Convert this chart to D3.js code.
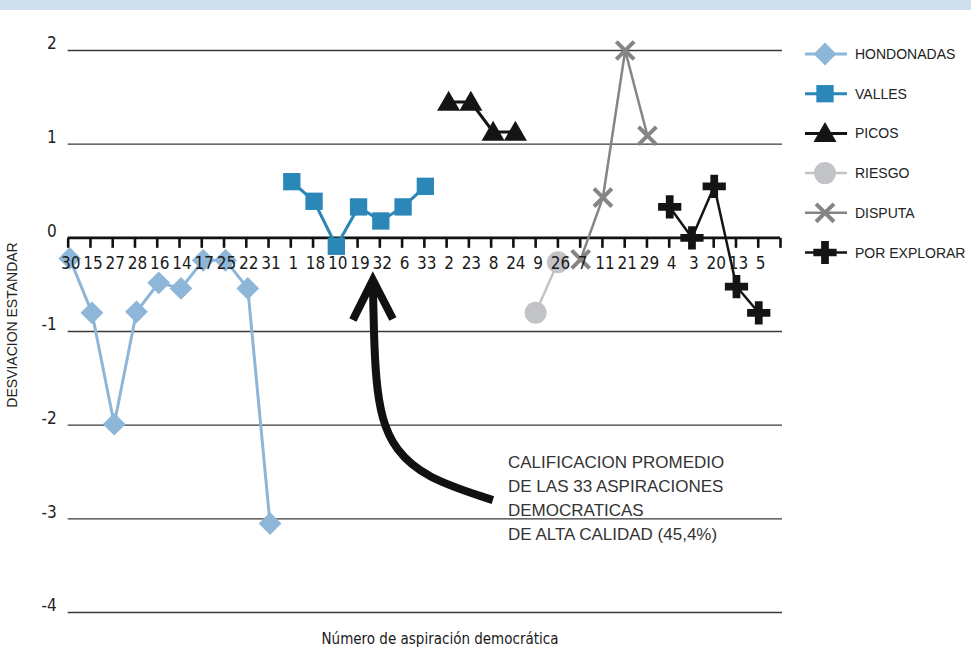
<!DOCTYPE html>
<html>
<head>
<meta charset="utf-8">
<script src="https://cdn.jsdelivr.net/npm/d3@7"></script>
<style>
  html, body { margin: 0; padding: 0; background: #fff; }
  svg { display: block; }
</style>
</head>
<body>
<svg id="chart" width="971" height="649"></svg>
<script>
// ---------- DATA ----------
const categories = ["30","15","27","28","16","14","17","25","22","31","1","18","10","19","32","6","33","2","23","8","24","9","26","7","11","21","29","4","3","20","13","5"];
const yTicks = [2, 1, 0, -1, -2, -3, -4];

const hondonadasCats = ["30","15","27","28","16","14","17","25","22","31"];
const hondonadasVals = [-0.22, -0.80, -1.99, -0.79, -0.48, -0.54, -0.24, -0.24, -0.54, -3.05];

const vallesCats = ["1","18","10","19","32","6","33"];
const vallesVals = [0.60, 0.39, -0.09, 0.33, 0.18, 0.33, 0.55];

const picosCats = ["2","23","8","24"];
const picosVals = [1.45, 1.45, 1.13, 1.13];

const riesgoCats = ["9","26"];
const riesgoVals = [-0.80, -0.26];

const disputaCats = ["7","11","21","29"];
const disputaVals = [-0.23, 0.43, 2.00, 1.09];

const explorarCats = ["4","3","20","13","5"];
const explorarVals = [0.33, 0.00, 0.55, -0.52, -0.80];

const legendLabels = ["HONDONADAS","VALLES","PICOS","RIESGO","DISPUTA","POR EXPLORAR"];

const annotationLines = ["CALIFICACION PROMEDIO","DE LAS 33 ASPIRACIONES","DEMOCRATICAS","DE ALTA CALIDAD (45,4%)"];
const xTitle = "Número de aspiración democrática";
const yTitle = "DESVIACION ESTANDAR";

// ---------- SETUP ----------
const svg = d3.select("#chart");
const W = 971, H = 649;
const condensed = "'Liberation Sans Narrow', 'DejaVu Sans Condensed', 'Liberation Sans', sans-serif";
const plain = "'Liberation Sans', Arial, sans-serif";

// top band
svg.append("rect").attr("x", 0).attr("y", 0).attr("width", W).attr("height", 10).attr("fill", "#cfdeed");

const nSlots = categories.length; // 32 labelled + 1 trailing tick
const x = d3.scaleLinear().domain([0, nSlots]).range([67.7, 780]);
const y = d3.scaleLinear().domain([-4, 2]).range([612.5, 50.5]);
const idx = c => categories.indexOf(c);

// y tick labels
const yAxis = d3.axisLeft(y).tickValues(yTicks).tickSize(0).tickPadding(12).tickFormat(d3.format("d"));
const gY = svg.append("g").attr("transform", `translate(${x.range()[0]},0)`).call(yAxis);
gY.select(".domain").remove();
gY.selectAll("text").attr("font-family", condensed).attr("font-size", 17).attr("fill", "#222")
  .attr("dy", "-0.1em").attr("x", -11)
  .text(d => d < 0 ? "-" + Math.abs(d) : d);

// gridlines
svg.append("g").selectAll("line").data(yTicks.filter(d => d !== 0)).join("line")
  .attr("x1", x.range()[0]).attr("x2", 782)
  .attr("y1", d => y(d)).attr("y2", d => y(d))
  .attr("stroke", "#3a3a3a").attr("stroke-width", 1.4);

// zero axis with ticks (labels drawn later, on top of markers)
const tickIdx = d3.range(nSlots + 1);
const xAxis = d3.axisBottom(x).tickValues(tickIdx).tickSize(10).tickSizeOuter(0)
  .tickFormat(i => categories[i] || "");
const gX = svg.append("g").attr("transform", `translate(0,${y(0)})`).call(xAxis);
gX.select(".domain").attr("stroke", "#111").attr("stroke-width", 2.6)
  .attr("d", `M${x.range()[0]},0H${x.range()[1]}`);
gX.selectAll(".tick line").attr("stroke", "#111").attr("stroke-width", 2.6);
const labelData = [];
gX.selectAll(".tick text").each(function (i) { labelData.push(i); }).remove();

// ---------- SERIES ----------
const lineGen = d3.line().x(d => d.x).y(d => d.y);
function series(cats, vals, dx) {
  return cats.map((c, i) => ({ x: x(idx(c)) + dx, y: y(vals[i]) }));
}

const sym = {
  diamond: d3.symbol().type(d3.symbolDiamond2).size(330),
  square: d3.symbol().type(d3.symbolSquare).size(300),
  triangle: d3.symbol().type(d3.symbolTriangle).size(230),
  circle: d3.symbol().type(d3.symbolCircle).size(380),
  cross: d3.symbol().type(d3.symbolCross).size(300),
  times: d3.symbol().type(d3.symbolTimes).size(210)
};

const defs = [
  { cats: hondonadasCats, vals: hondonadasVals, color: "#8db6d8", lw: 3, sym: "diamond", dx: 2 },
  { cats: vallesCats, vals: vallesVals, color: "#2a87b8", lw: 3, sym: "square", dx: 1.5 },
  { cats: picosCats, vals: picosVals, color: "#141414", lw: 3, sym: "triangle", dx: 2.5 },
  { cats: riesgoCats, vals: riesgoVals, color: "#c2c3c6", lw: 2.5, sym: "circle", dx: 0.5 },
  { cats: disputaCats, vals: disputaVals, color: "#858585", lw: 2.5, sym: "times", dx: 1 },
  { cats: explorarCats, vals: explorarVals, color: "#141414", lw: 2.5, sym: "cross", dx: 1 }
];

defs.forEach(s => {
  const pts = series(s.cats, s.vals, s.dx);
  svg.append("path").datum(pts).attr("d", lineGen)
    .attr("fill", "none").attr("stroke", s.color).attr("stroke-width", s.lw);
  const g = svg.append("g");
  g.selectAll("path").data(pts).join("path")
    .attr("transform", d => `translate(${d.x},${d.y + (s.sym === "triangle" ? 2 : 0)})`)
    .attr("d", sym[s.sym])
    .attr("fill", s.sym === "times" ? "none" : s.color)
    .attr("stroke", s.sym === "times" ? s.color : "none")
    .attr("stroke-width", s.sym === "times" ? 4 : 0);
});

// category labels on top
svg.append("g").selectAll("text").data(labelData).join("text")
  .attr("x", i => x(i) + 3).attr("y", y(0) + 31)
  .attr("text-anchor", "middle")
  .attr("font-family", condensed).attr("font-size", 17)
  .attr("fill", "#1a1a1a")
  .text(i => categories[i] || "");

// ---------- LEGEND ----------
const legY = d3.scaleLinear().domain([0, 5]).range([54, 252.5]);
const leg = svg.append("g");
defs.forEach((s, i) => {
  const cy = legY(i);
  leg.append("line").attr("x1", 805).attr("x2", 847).attr("y1", cy).attr("y2", cy)
    .attr("stroke", s.color).attr("stroke-width", s.lw);
  leg.append("path").attr("transform", `translate(825,${cy + (s.sym === "triangle" ? 2 : 0)})`)
    .attr("d", sym[s.sym])
    .attr("fill", s.sym === "times" ? "none" : s.color)
    .attr("stroke", s.sym === "times" ? s.color : "none")
    .attr("stroke-width", s.sym === "times" ? 4 : 0);
  leg.append("text").attr("x", 855).attr("y", cy).attr("dy", "0.36em")
    .attr("font-family", plain).attr("font-size", 14).attr("fill", "#222")
    .text(legendLabels[i]);
});

// ---------- ANNOTATION ----------
const arrowPts = [
  [13.71, -0.50], [13.75, -0.98], [13.84, -1.52], [14.11, -1.94],
  [14.70, -2.26], [16.04, -2.56], [19.10, -2.80]
].map(p => [x(p[0]), y(p[1])]);
svg.append("path").attr("d", d3.line().curve(d3.curveBasis)(arrowPts))
  .attr("fill", "none").attr("stroke", "#111").attr("stroke-width", 8);
const tip = [x(13.71), y(-0.45)];
svg.append("path")
  .attr("d", d3.line()([[tip[0] - 20, tip[1] + 40], tip, [tip[0] + 20, tip[1] + 39]]))
  .attr("fill", "none").attr("stroke", "#111").attr("stroke-width", 8)
  .attr("stroke-linejoin", "miter").attr("stroke-miterlimit", 10);

svg.append("g").selectAll("text").data(annotationLines).join("text")
  .attr("x", 508).attr("y", (d, i) => 468 + i * 24)
  .attr("font-family", plain).attr("font-size", 17).attr("fill", "#333")
  .text(d => d);

// ---------- TITLES ----------
svg.append("text").attr("x", 440).attr("y", 644).attr("text-anchor", "middle")
  .attr("font-family", condensed).attr("font-size", 15).attr("fill", "#1a1a1a")
  .text(xTitle);
svg.append("text").attr("transform", "translate(17,325) rotate(-90)").attr("text-anchor", "middle")
  .attr("font-family", plain).attr("font-size", 14).attr("fill", "#222")
  .text(yTitle);
</script>
</body>
</html>
